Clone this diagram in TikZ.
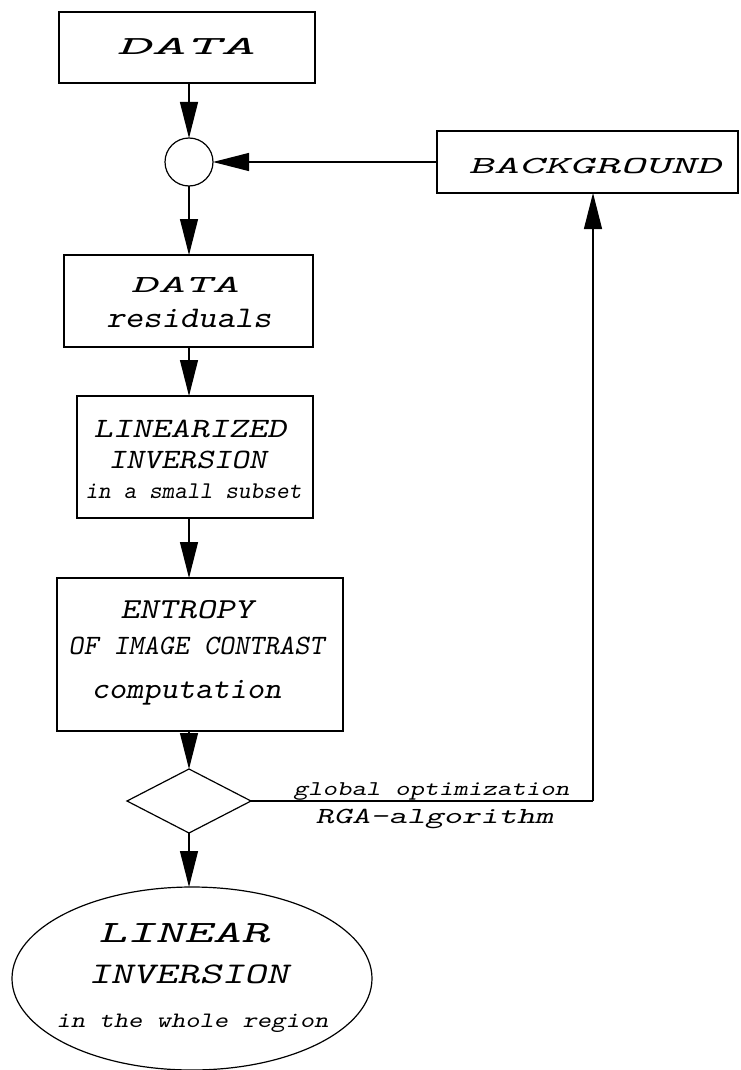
\documentclass[tikz,border=0pt]{standalone}
\usepackage{graphicx}
\usetikzlibrary{arrows.meta,shapes.geometric}
\newcommand{\mt}[3]{\resizebox{#1pt}{\height}{\fontsize{#2pt}{#2pt}\selectfont\ttfamily\slshape #3}}
\begin{document}
\begin{tikzpicture}[x=1pt,y=-1pt,
  box/.style={draw,line width=1.2pt,inner sep=0pt,outer sep=0pt,rectangle},
  conn/.style={line width=1.2pt,-{Triangle[length=36pt,width=18pt]}},
  wire/.style={line width=1.2pt},
  lbl/.style={anchor=base,inner sep=0pt,outer sep=0pt}]
\useasboundingbox (0,0) rectangle (740,1070);
% shapes
\node[box,minimum width=256pt,minimum height=71pt] (data) at (187,47.5) {};
\node[circle,draw,line width=1.2pt,minimum size=48pt,inner sep=0pt,outer sep=0pt] (sum) at (189,162) {};
\node[box,minimum width=301pt,minimum height=62pt] (bg) at (587.5,162) {};
\node[box,minimum width=249pt,minimum height=92pt] (res) at (188.5,301) {};
\node[box,minimum width=236pt,minimum height=122pt] (lz) at (195,457) {};
\node[box,minimum width=286pt,minimum height=153pt] (ent) at (200,654.5) {};
\node[diamond,draw,line width=1.2pt,minimum width=124pt,minimum height=64pt,inner sep=0pt,outer sep=0pt] (dia) at (189,801) {};
\node[ellipse,draw,line width=1.2pt,minimum width=360pt,minimum height=183pt,inner sep=0pt,outer sep=0pt] (ell) at (192,978.5) {};
% texts
\node[lbl] (tdata) at (186,55) {\mt{138}{26}{DATA}};
\node[lbl] (tbg) at (595,173) {\mt{253}{24.5}{BACKGROUND}};
\node[lbl] (tres1) at (185,292) {\mt{108}{24.5}{DATA}};
\node[lbl] (tres2) at (189,327) {\mt{165}{30}{residuals}};
\node[lbl] (tlz1) at (190,437) {\mt{193}{28}{LINEARIZED}};
\node[lbl] (tlz2) at (187.5,468) {\mt{158}{28}{INVERSION}};
\node[lbl] (tlz3) at (193.5,498) {\mt{216}{24}{in a small subset}};
\node[lbl] (tent1) at (187,618) {\mt{133}{29}{ENTROPY}};
\node[lbl] (tent2) at (196.5,654) {\mt{256}{28}{OF IMAGE CONTRAST}};
\node[lbl] (tent3) at (186.5,698) {\mt{190}{30}{computation}};
\node[lbl] (tglob) at (431.5,795) {\mt{276}{21}{global optimization}};
\node[lbl] (trga) at (434.5,823) {\mt{238}{23}{RGA-algorithm}};
\node[lbl] (tell1) at (184,942) {\mt{171}{31}{LINEAR}};
\node[lbl] (tell2) at (188.5,983) {\mt{200}{30}{INVERSION}};
\node[lbl] (tell3) at (192.5,1027) {\mt{272}{22}{in the whole region}};
% connectors
\draw[conn] (data.south -| sum) -- (sum.north);
\draw[conn] (bg.west) -- (sum.east);
\draw[conn] (sum.south) -- (sum.south |- res.north);
\draw[conn] (res.south -| sum) -- (sum |- lz.north);
\draw[conn] (lz.south -| sum) -- (sum |- ent.north);
\draw[conn] (ent.south -| dia) -- (dia.north);
\draw[conn] (dia.south) -- (dia.south |- ell.north);
\coordinate (corner) at (593,801);
\draw[wire] (dia.east) -- (corner);
\draw[conn] (corner) -- (corner |- bg.south);
\end{tikzpicture}
\end{document}
